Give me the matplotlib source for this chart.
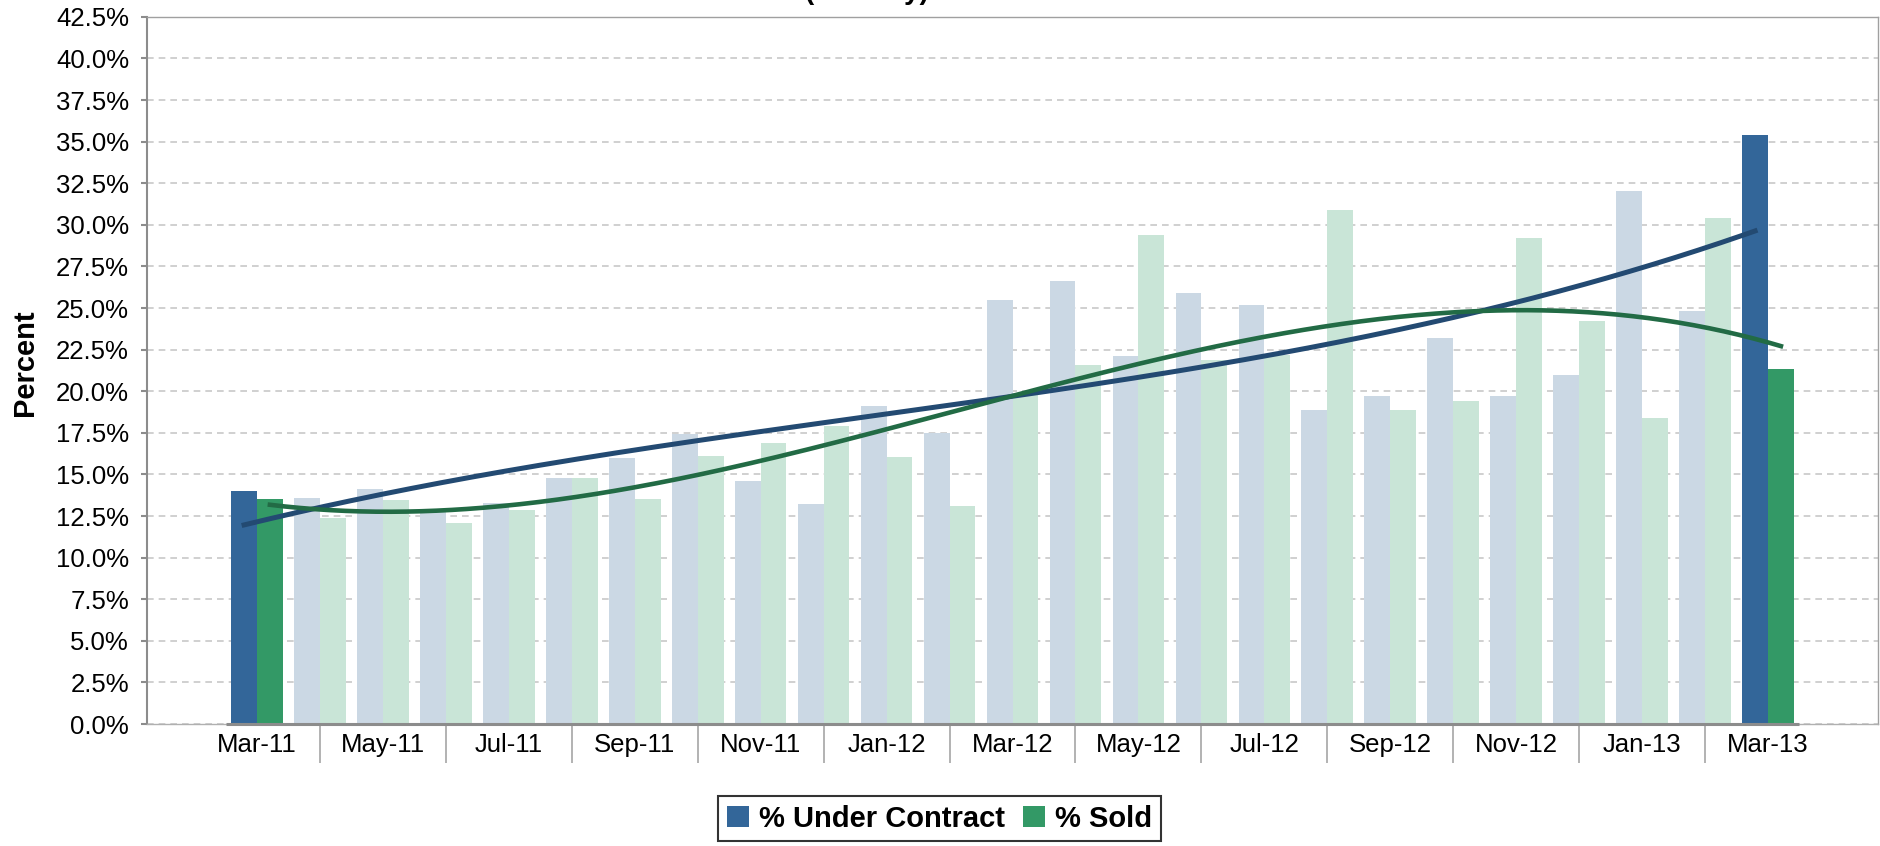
import numpy as np
import matplotlib
matplotlib.use("Agg")
import matplotlib.pyplot as plt
from matplotlib.patches import Patch
from matplotlib.ticker import FuncFormatter

# ---------------- data ----------------
months = ["Mar-11", "Apr-11", "May-11", "Jun-11", "Jul-11", "Aug-11", "Sep-11",
          "Oct-11", "Nov-11", "Dec-11", "Jan-12", "Feb-12", "Mar-12", "Apr-12",
          "May-12", "Jun-12", "Jul-12", "Aug-12", "Sep-12", "Oct-12", "Nov-12",
          "Dec-12", "Jan-13", "Feb-13", "Mar-13"]
under_contract = [14.0, 13.6, 14.15, 12.8, 13.3, 14.8, 16.0, 17.4, 14.6, 13.2,
                  19.1, 17.5, 25.5, 26.65, 22.1, 25.9, 25.2, 18.9, 19.7, 23.2,
                  19.7, 21.0, 32.05, 24.8, 35.4]
sold = [13.5, 12.4, 13.45, 12.1, 12.85, 14.8, 13.5, 16.1, 16.9, 17.9,
        16.05, 13.1, 19.8, 21.55, 29.4, 21.9, 22.2, 30.9, 18.9, 19.4,
        29.2, 24.2, 18.4, 30.4, 21.35]
tick_labels = months[::2]
series_names = ["% Under Contract", "% Sold"]

# ---------------- style ----------------
BLUE = "#336699"
GREEN = "#339966"
BLUE_LIGHT = "#cbd8e4"
GREEN_LIGHT = "#c9e5d7"
BLUE_DARK = "#234a72"
GREEN_DARK = "#226b45"

plt.rcParams['font.family'] = ['Liberation Sans', 'DejaVu Sans']

W, H = 1881, 846
fig = plt.figure(figsize=(W / 100, H / 100), dpi=100)
L, R, T, B = 146.7, 1878, 16.8, 724
ax = fig.add_axes([L / W, 1 - B / H, (R - L) / W, (B - T) / H])

n = len(months)
x = np.arange(n)
w = 0.41
highlight = {0, n - 1}
uc_colors = [BLUE if i in highlight else BLUE_LIGHT for i in range(n)]
sold_colors = [GREEN if i in highlight else GREEN_LIGHT for i in range(n)]

ax.bar(x - w / 2, under_contract, w, color=uc_colors, zorder=2, linewidth=0)
ax.bar(x + w / 2, sold, w, color=sold_colors, zorder=2, linewidth=0)

# cubic polynomial trend lines (as in the source chart)
xs = np.linspace(0, n - 1, 400)
pb = np.polyfit(x, under_contract, 3)
pg = np.polyfit(x, sold, 3)
ax.plot(xs - w / 2, np.polyval(pb, xs), color=BLUE_DARK, lw=3.6, zorder=3)
ax.plot(xs + w / 2, np.polyval(pg, xs), color=GREEN_DARK, lw=3.3, zorder=3)

# axes limits / ticks
ax.set_xlim(-1.752, 25.747)
ax.set_ylim(0, 42.5)
ax.set_yticks(np.arange(0, 42.51, 2.5))
ax.yaxis.set_major_formatter(FuncFormatter(lambda v, p: f"{v:.1f}%"))
ax.set_xticks(x[::2])
ax.set_xticklabels(tick_labels)
ax.set_xticks(x[1::2], minor=True)
ax.tick_params(axis='x', which='major', length=0, pad=6.6, labelsize=18.5)
ax.tick_params(axis='x', which='minor', length=28, width=1.2, color='#a6a6a6')
ax.tick_params(axis='y', length=4.3, width=1.5, color='#8c8c8c', pad=8.4,
               labelsize=18.5)

ax.yaxis.grid(True, linestyle=(0, (4, 3)), color='#c8c8c8', lw=1.2, zorder=0)
ax.set_axisbelow(True)

for s in ('top', 'right'):
    ax.spines[s].set_color('#a0a0a0')
    ax.spines[s].set_linewidth(1.0)
ax.spines['left'].set_color('#8c8c8c')
ax.spines['left'].set_linewidth(1.5)
ax.spines['bottom'].set_color('#b0b0b0')
ax.spines['bottom'].set_linewidth(1.0)
# category axis line across the category range
ax.plot([-0.5, n - 0.5], [0, 0], color='#8c8c8c', lw=2.2, zorder=4,
        clip_on=False, solid_capstyle='butt')

fig.text(25 / W, 1 - 363 / H, "Percent", rotation=90, fontsize=21,
         fontweight='bold', ha='center', va='center')

# title (cut off at the top edge in the source)
fig.text(929 / W, 1 + 1 / H, "(Monthly)", ha='right', va='baseline',
         fontsize=20, fontweight='bold')

handles = [Patch(facecolor=BLUE, edgecolor='none'),
           Patch(facecolor=GREEN, edgecolor='none')]
leg = fig.legend(handles, series_names, loc='center',
                 bbox_to_anchor=(939.5 / W, 1 - 818.5 / H), ncol=2,
                 frameon=True, fancybox=False, edgecolor='black',
                 prop={'weight': 'bold', 'size': 21},
                 handlelength=0.75, handleheight=0.75, handletextpad=0.35,
                 columnspacing=0.6, borderpad=0.3, borderaxespad=0)
leg.get_frame().set_linewidth(1.5)

fig.savefig("out.png", dpi=100)
